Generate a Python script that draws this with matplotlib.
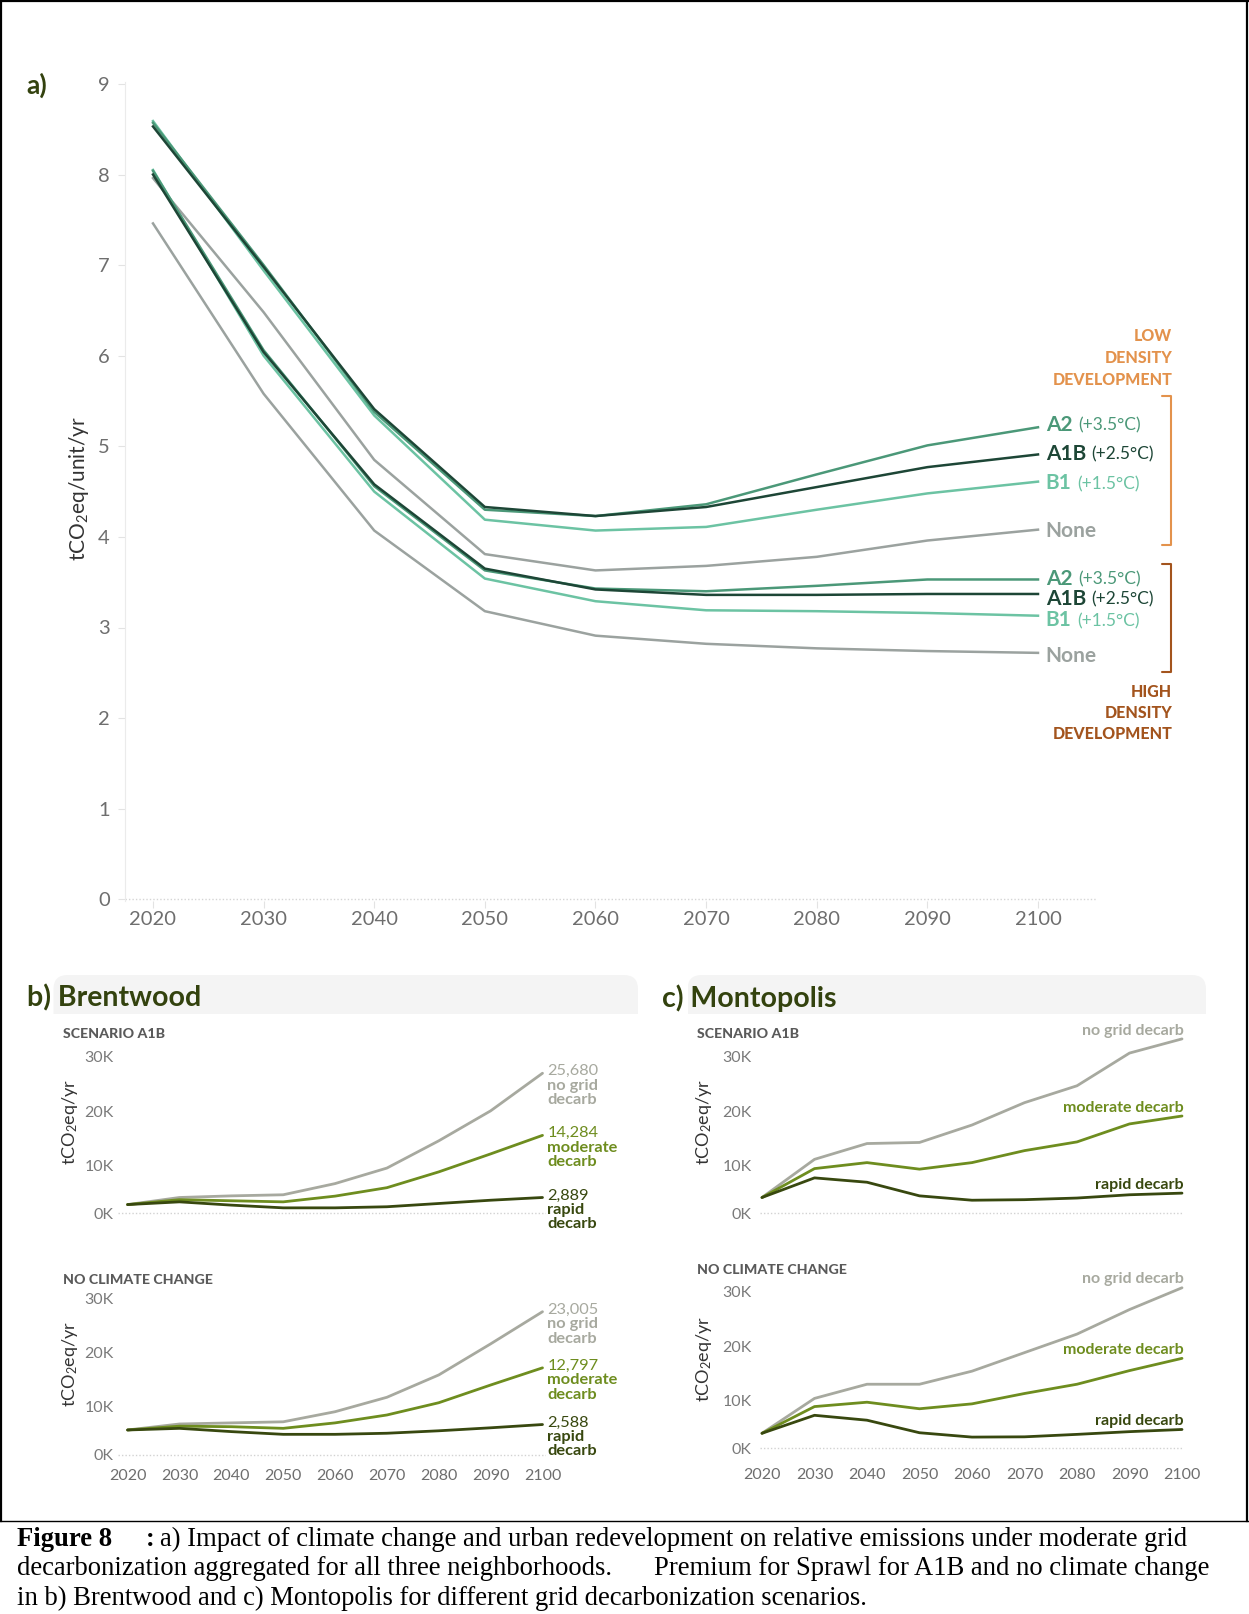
""" climate change / redevelopment emissions figure """
import matplotlib
matplotlib.use('Agg')
import matplotlib.pyplot as plt
from matplotlib.offsetbox import TextArea, HPacker, AnnotationBbox
from matplotlib.patches import FancyBboxPatch, Rectangle
from matplotlib.transforms import ScaledTranslation

plt.rcParams['font.family'] = ['Lato', 'DejaVu Sans']
plt.rcParams['mathtext.fontset'] = 'custom'
plt.rcParams['mathtext.rm'] = 'Lato'
plt.rcParams['mathtext.it'] = 'Lato:italic'
plt.rcParams['mathtext.bf'] = 'Lato:bold'

# ---- data -------------------------------------------------------------
years = [2020, 2030, 2040, 2050, 2060, 2070, 2080, 2090, 2100]

# a) tCO2eq/unit/yr, low density development
low_a2 = [8.57, 7.00, 5.38, 4.30, 4.23, 4.36, 4.69, 5.01, 5.21]
low_a1b = [8.53, 6.98, 5.41, 4.33, 4.23, 4.33, 4.55, 4.77, 4.91]
low_b1 = [8.59, 6.94, 5.34, 4.19, 4.07, 4.11, 4.30, 4.48, 4.61]
low_none = [7.96, 6.48, 4.85, 3.81, 3.63, 3.68, 3.78, 3.96, 4.08]
# a) high density development
high_a2 = [8.04, 6.06, 4.56, 3.63, 3.43, 3.40, 3.46, 3.53, 3.53]
high_a1b = [8.00, 6.04, 4.58, 3.65, 3.42, 3.36, 3.36, 3.37, 3.37]
high_b1 = [8.05, 6.00, 4.50, 3.54, 3.29, 3.19, 3.18, 3.16, 3.13]
high_none = [7.46, 5.58, 4.07, 3.18, 2.91, 2.82, 2.77, 2.74, 2.72]

scenario_names = ['A2', 'A1B', 'B1', 'None']
scenario_temps = ['(+3.5°C)', '(+2.5°C)', '(+1.5°C)', '']

# b) Brentwood, tCO2eq/yr
brent_a1b_nogrid = [1600, 2900, 3200, 3400, 5450, 8300, 13300, 18800, 25700]
brent_a1b_moderate = [1600, 2500, 2300, 2100, 3150, 4700, 7600, 10900, 14300]
brent_a1b_rapid = [1600, 2100, 1500, 1000, 1000, 1200, 1800, 2400, 2900]
brent_ncc_nogrid = [4500, 5600, 5800, 6000, 7850, 10500, 14600, 20300, 26200]
brent_ncc_moderate = [4500, 5200, 5100, 4800, 5800, 7250, 9500, 12750, 15900]
brent_ncc_rapid = [4500, 4800, 4200, 3700, 3700, 3900, 4350, 4900, 5500]
brent_a1b_end = ['25,680', '14,284', '2,889']
brent_ncc_end = ['23,005', '12,797', '2,588']

# c) Montopolis, tCO2eq/yr
monto_a1b_nogrid = [2900, 9900, 12800, 13000, 16200, 20300, 23400, 29400, 32000]
monto_a1b_moderate = [2900, 8200, 9300, 8100, 9300, 11500, 13100, 16400, 17850]
monto_a1b_rapid = [2900, 6500, 5700, 3200, 2400, 2500, 2800, 3400, 3700]
monto_ncc_nogrid = [2700, 9100, 11700, 11700, 14100, 17500, 20900, 25400, 29400]
monto_ncc_moderate = [2700, 7600, 8400, 7200, 8100, 10000, 11700, 14200, 16450]
monto_ncc_rapid = [2700, 6000, 5100, 2800, 2000, 2050, 2500, 3000, 3400]

grid_names = ['no grid decarb', 'moderate decarb', 'rapid decarb']
k_ticks = [0, 10000, 20000, 30000]
k_labels = ['0K', '10K', '20K', '30K']

# ---- styles -----------------------------------------------------------
SCEN_COLORS = ['#4b9878', '#1d4636', '#6cc3a3', '#9ba29f']
GRID_COLORS = ['#a7a99f', '#6e8d1f', '#38480f']
LOW_COLOR = '#e3924c'
HIGH_COLOR = '#a3541d'
TITLE_COLOR = '#33420e'

W, H = 1249, 1614
fig = plt.figure(figsize=(W / 100, H / 100), dpi=100)


def place_axes(xpx, xval, ypx, yval, box):
    """ axes whose data values land on the given pixel anchors """
    left, top, right, bottom = box
    sx = (xpx[1] - xpx[0]) / (xval[1] - xval[0])
    sy = (ypx[0] - ypx[1]) / (yval[1] - yval[0])
    ax = fig.add_axes([left / W, 1 - bottom / H, (right - left) / W, (bottom - top) / H])
    ax.set_facecolor('none')
    ax.set_xlim(xval[0] - (xpx[0] - left) / sx, xval[1] + (right - xpx[1]) / sx)
    ax.set_ylim(yval[0] - (bottom - ypx[0]) / sy, yval[1] + (ypx[1] - top) / sy)
    return ax


# background overlay in pixel units
bg = fig.add_axes([0, 0, 1, 1], zorder=-5)
bg.set_xlim(0, W)
bg.set_ylim(H, 0)
bg.axis('off')

# frame + caption rule
bg.plot([1.5, 1.5], [0, 1521], color='black', lw=1.6)
bg.plot([0, W], [1.2, 1.2], color='black', lw=1.6)
bg.plot([W - 1.5, W - 1.5], [0, 1521], color='black', lw=1.6)
bg.plot([0, W], [1521, 1521], color='black', lw=1.0)

# ---- panel a ----------------------------------------------------------
ax = place_axes((153, 1038), (2020, 2100), (899.3, 83.9), (0, 9), (125, 82, 1096, 901))
for side in ['top', 'right', 'bottom']:
    ax.spines[side].set_visible(False)
ax.spines['left'].set_color('#ebebeb')
ax.axhline(0, color='#d5d5d5', lw=1.0, ls=(0, (1, 1.5)), zorder=1)
ax.set_yticks(range(0, 10))
ax.set_xticks(years)
ax.tick_params(axis='both', length=5, color='#e3e3e3', labelsize=14.5,
               labelcolor='#6e6e6e', pad=6)
ax.tick_params(axis='x', pad=2)

low_series = [low_a2, low_a1b, low_b1, low_none]
high_series = [high_a2, high_a1b, high_b1, high_none]
for idx in [3, 2, 0, 1]:
    ax.plot(years, high_series[idx], color=SCEN_COLORS[idx], lw=1.8, zorder=3)
    ax.plot(years, low_series[idx], color=SCEN_COLORS[idx], lw=1.8, zorder=3)

low_label_y = [5.24, 4.92, 4.59, 4.06]
high_label_y = [3.54, 3.32, 3.08, 2.68]


def scen_label(name, temp, color, y):
    parts = [TextArea(name, textprops=dict(color=color, fontsize=15, fontweight='bold'))]
    if temp:
        parts.append(TextArea(temp, textprops=dict(color=color, fontsize=12.5)))
    box = HPacker(children=parts, align='baseline', pad=0, sep=4)
    ab = AnnotationBbox(box, (years[-1], y), xybox=(5.5, 0), xycoords='data',
                        boxcoords='offset points', box_alignment=(0, 0.5),
                        frameon=False, annotation_clip=False)
    ax.add_artist(ab)


for i in range(4):
    scen_label(scenario_names[i], scenario_temps[i], SCEN_COLORS[i], low_label_y[i])
    scen_label(scenario_names[i], scenario_temps[i], SCEN_COLORS[i], high_label_y[i])

# brackets
bx, hook = 2112.0, 0.8
for labels_y, col, up, low in [(low_label_y, LOW_COLOR, 0.32, 0.15),
                               (high_label_y, HIGH_COLOR, 0.16, 0.17)]:
    top_v = max(labels_y) + up
    bot_v = min(labels_y) - low
    ax.plot([bx - hook, bx, bx, bx - hook], [top_v, top_v, bot_v, bot_v], color=col,
            lw=1.5, clip_on=False, solid_joinstyle='round', solid_capstyle='round')
    if col == LOW_COLOR:
        for k, word in enumerate(['DEVELOPMENT', 'DENSITY', 'LOW']):
            ax.annotate(word, (bx, top_v), xytext=(1, 11.5 + k * 15.8),
                        textcoords='offset points', ha='right', va='center',
                        color=col, fontsize=11.5, fontweight='black', annotation_clip=False)
    else:
        for k, word in enumerate(['HIGH', 'DENSITY', 'DEVELOPMENT']):
            ax.annotate(word, (bx, bot_v), xytext=(1, -14.4 - k * 15.2),
                        textcoords='offset points', ha='right', va='center',
                        color=col, fontsize=11.5, fontweight='black', annotation_clip=False)

fig.text(79 / W, 1 - 489 / H, 'tCO$_2$eq/unit/yr', rotation=90, ha='center', va='center',
         fontsize=15, color='#333333')
fig.text(26 / W, 1 - 85 / H, 'a)', ha='left', va='center', fontsize=19,
         fontweight='bold', color=TITLE_COLOR)

# ---- panel headers ----------------------------------------------------
for x0, x1, title, tx in [(53.5, 638, 'b) Brentwood', 27), (687.6, 1206, 'c) Montopolis', 662)]:
    box = FancyBboxPatch((x0, 975), x1 - x0, 70, boxstyle='round,pad=0,rounding_size=14',
                         fc='#f4f4f4', ec='none')
    bg.add_patch(box)
    box.set_clip_path(Rectangle((x0, 975), x1 - x0, 39, transform=bg.transData))
    bg.text(tx, 998, title, ha='left', va='center', fontsize=20.5, fontweight='bold',
            color=TITLE_COLOR)


# ---- small panels -----------------------------------------------------
def small_panel(xpx, zero_px, box, series, scen_title, title_xy, ylab_xy,
                show_x, xpad, ypad):
    axs = place_axes(xpx, (2020, 2100), (zero_px, zero_px - 30 * 5.45), (0, 30000), box)
    for s in axs.spines.values():
        s.set_visible(False)
    axs.axhline(0, color='#d2d2d2', lw=1.0, ls=(0, (1, 1.5)), zorder=1)
    for vals, col in zip(series, GRID_COLORS):
        axs.plot(years, vals, color=col, lw=2.0, zorder=3, solid_capstyle='round')
    axs.set_yticks(k_ticks)
    axs.set_yticklabels(k_labels)
    axs.tick_params(axis='y', length=0, labelsize=11.5, labelcolor='#7a7a7a', pad=ypad)
    shift = ScaledTranslation(0, -0.07, fig.dpi_scale_trans)
    for lbl in axs.get_yticklabels()[1:]:
        lbl.set_transform(lbl.get_transform() + shift)
    axs.set_xticks(years)
    if show_x:
        axs.tick_params(axis='x', length=0, labelsize=11.5, labelcolor='#6e6e6e', pad=xpad)
    else:
        axs.tick_params(axis='x', length=0, labelbottom=False)
    bg.text(title_xy[0], title_xy[1], scen_title, ha='left', va='center', fontsize=10.2,
            fontweight='black', color='#5a5a5a')
    bg.text(ylab_xy[0], ylab_xy[1], 'tCO$_2$eq/yr', rotation=90, ha='center', va='center',
            fontsize=13, color='#333333')
    return axs


def brent_labels(axs, series, ends):
    for vals, col, end, name in zip(series, GRID_COLORS, ends, grid_names):
        words = name.split(' ')
        lines = [end, ' '.join(words[:-1]), words[-1]]
        for k, line in enumerate(lines):
            axs.annotate(line, (years[-1], vals[-1]), xytext=(3.5, 1.5 - k * 10.4),
                         textcoords='offset points', ha='left', va='center', color=col,
                         fontsize=11.8, fontweight='normal' if k == 0 else 'bold',
                         annotation_clip=False)


def monto_labels(axs, series):
    for vals, col, name in zip(series, GRID_COLORS, grid_names):
        axs.annotate(name, (years[-1], vals[-1]), xytext=(1, 6), textcoords='offset points',
                     ha='right', va='center', color=col, fontsize=11.5, fontweight='bold',
                     annotation_clip=False)


b_top = [brent_a1b_nogrid, brent_a1b_moderate, brent_a1b_rapid]
b_bot = [brent_ncc_nogrid, brent_ncc_moderate, brent_ncc_rapid]
c_top = [monto_a1b_nogrid, monto_a1b_moderate, monto_a1b_rapid]
c_bot = [monto_ncc_nogrid, monto_ncc_moderate, monto_ncc_rapid]

ax_bt = small_panel((127.6, 542.5), 1213.3, (118, 1027, 546, 1216), b_top, 'SCENARIO A1B',
                    (63, 1034.5), (70, 1122), False, 8, 3)
brent_labels(ax_bt, b_top, brent_a1b_end)
ax_bb = small_panel((127.6, 542.5), 1454.5, (118, 1268, 546, 1457), b_bot, 'NO CLIMATE CHANGE',
                    (63, 1279.5), (70, 1364), True, 8.5, 3)
brent_labels(ax_bb, b_bot, brent_ncc_end)
ax_ct = small_panel((762, 1182), 1213.3, (760, 1027, 1184, 1216), c_top, 'SCENARIO A1B',
                    (697, 1034.5), (704, 1122), False, 8, 6)
monto_labels(ax_ct, c_top)
ax_cb = small_panel((762, 1182), 1448, (760, 1262, 1184, 1451), c_bot, 'NO CLIMATE CHANGE',
                    (697, 1270), (704, 1359), True, 12.5, 6)
monto_labels(ax_cb, c_bot)

# ---- caption ----------------------------------------------------------
serif = 'Liberation Serif'
cap = dict(fontsize=19.2, family=serif, color='black')
cap_b = dict(cap, fontweight='bold')
line1 = HPacker(children=[
    HPacker(children=[TextArea('Figure 8', textprops=cap_b), TextArea(':', textprops=cap_b)],
            align='baseline', pad=0, sep=24),
    TextArea('a) Impact of climate change and urban redevelopment on relative emissions '
             'under moderate grid', textprops=cap)], align='baseline', pad=0, sep=4)
line2 = HPacker(children=[
    TextArea('decarbonization aggregated for all three neighborhoods.', textprops=cap),
    TextArea('Premium for Sprawl for A1B and no climate change', textprops=cap)],
    align='baseline', pad=0, sep=30)
line3 = TextArea('in b) Brentwood and c) Montopolis for different grid decarbonization '
                 'scenarios.', textprops=cap)
for box, yy in [(line1, 1539), (line2, 1568.5), (line3, 1598.5)]:
    bg.add_artist(AnnotationBbox(box, (17.5, yy), xycoords='data', box_alignment=(0, 0.5),
                                 frameon=False, pad=0, annotation_clip=False))

fig.savefig('out.png', dpi=100)
